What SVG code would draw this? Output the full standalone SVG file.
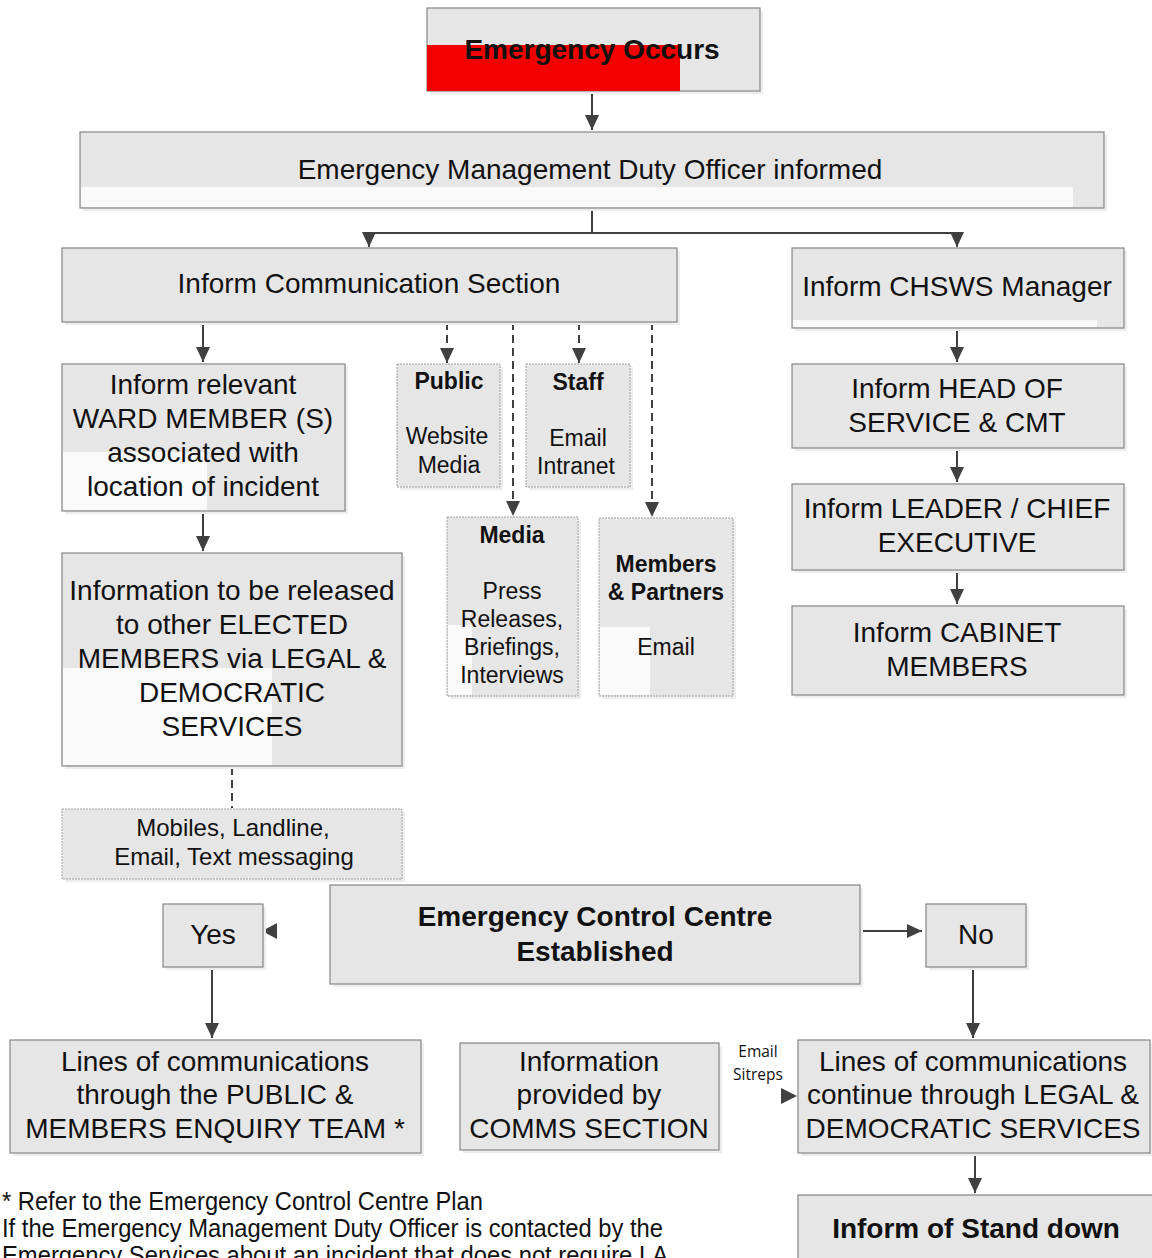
<svg xmlns="http://www.w3.org/2000/svg" width="1152" height="1258" viewBox="0 0 1152 1258">
<defs>
<marker id="ah" markerUnits="userSpaceOnUse" markerWidth="15" markerHeight="14" refX="15" refY="7" orient="auto">
<path d="M0,0 L15,7 L0,14 z" fill="#404040"/>
</marker>
<style>
text{font-family:"Liberation Sans",Arial,sans-serif;fill:#111;text-anchor:middle}
.t28{font-size:28px}
.b28{font-size:28px;font-weight:bold}
.t22{font-size:23px}
.b22{font-size:23px;font-weight:bold}
.t24{font-size:24px}
.box{fill:#e6e6e6;stroke:#858585;stroke-width:1.2}
.dbox{fill:#e6e6e6;stroke:#a0a0a0;stroke-width:1;stroke-dasharray:2 1}
.sh{fill:#ededed}
.wh{fill:#fafafa}
.ln{fill:none;stroke:#404040;stroke-width:2}
.dl{fill:none;stroke:#404040;stroke-width:2;stroke-dasharray:8 5}
.tip{fill:#404040}
.foot{font-size:25px;text-anchor:start}
.sm{font-family:"Open Sans","Liberation Sans",sans-serif;font-size:15.5px}
</style>
</defs>
<rect width="1152" height="1258" fill="#fff"/>

<g id="connectors">
<path class="ln" d="M592,91 V130" marker-end="url(#ah)"/>
<path class="ln" d="M592,208 V233"/>
<path class="ln" d="M592,233 H369 V247" marker-end="url(#ah)"/>
<path class="ln" d="M592,233 H957 V247" marker-end="url(#ah)"/>
<path class="ln" d="M203,322 V362" marker-end="url(#ah)"/>
<path class="dl" d="M447,322 V363" marker-end="url(#ah)"/>
<path class="dl" d="M579,322 V363" marker-end="url(#ah)"/>
<path class="dl" d="M513,322 V516" marker-end="url(#ah)"/>
<path class="dl" d="M652,322 V517" marker-end="url(#ah)"/>
<path class="ln" d="M203,511 V551" marker-end="url(#ah)"/>
<path class="dl" d="M232,767 V808"/>
<path class="ln" d="M957,328 V362" marker-end="url(#ah)"/>
<path class="ln" d="M957,448 V482" marker-end="url(#ah)"/>
<path class="ln" d="M957,570 V604" marker-end="url(#ah)"/>
<polygon class="tip" points="262,931 277,923 277,939"/>
<path class="ln" d="M858,931 H922" marker-end="url(#ah)"/>
<path class="ln" d="M212,963 V1038" marker-end="url(#ah)"/>
<path class="ln" d="M973,963 V1038" marker-end="url(#ah)"/>
<polygon class="tip" points="781,1088 797,1096 781,1104"/>
<path class="ln" d="M975,1153 V1193" marker-end="url(#ah)"/>
</g>

<g id="emergency-occurs">
<rect class="sh" x="430" y="11" width="333" height="83"/>
<rect class="box" x="427" y="8" width="333" height="83"/>
<rect x="427" y="45" width="253" height="46" fill="#f40000"/>
<text class="b28" x="592" y="59">Emergency Occurs</text>
</g>

<g id="duty-officer">
<rect class="sh" x="83" y="135" width="1024" height="76"/>
<rect class="box" x="80" y="132" width="1024" height="76"/>
<rect class="wh" x="81" y="187" width="992" height="20"/>
<text class="t28" x="590" y="179">Emergency Management Duty Officer informed</text>
</g>

<g id="comm-section">
<rect class="sh" x="65" y="251" width="615" height="74"/>
<rect class="box" x="62" y="248" width="615" height="74"/>
<text class="t28" x="369" y="293">Inform Communication Section</text>
</g>

<g id="chsws">
<rect class="sh" x="795" y="251" width="332" height="80"/>
<rect class="box" x="792" y="248" width="332" height="80"/>
<rect class="wh" x="793" y="320" width="304" height="7"/>
<text class="t28" x="957" y="296">Inform CHSWS Manager</text>
</g>

<g id="ward-member">
<rect class="sh" x="65" y="367" width="283" height="147"/>
<rect class="box" x="62" y="364" width="283" height="147"/>
<rect class="wh" x="63" y="452" width="144" height="58"/>
<text class="t28" x="203" y="394">Inform relevant</text>
<text class="t28" x="203" y="428">WARD MEMBER (S)</text>
<text class="t28" x="203" y="462">associated with</text>
<text class="t28" x="203" y="496">location of incident</text>
</g>

<g id="public">
<rect class="sh" x="400" y="367" width="103" height="123"/>
<rect class="dbox" x="397" y="364" width="103" height="123"/>
<text class="b22" x="449" y="389">Public</text>
<text class="t22" x="447" y="444">Website</text>
<text class="t22" x="449" y="473">Media</text>
</g>

<g id="staff">
<rect class="sh" x="529" y="367" width="104" height="123"/>
<rect class="dbox" x="526" y="364" width="104" height="123"/>
<text class="b22" x="578" y="390">Staff</text>
<text class="t22" x="578" y="446">Email</text>
<text class="t22" x="576" y="474">Intranet</text>
</g>

<g id="media">
<rect class="sh" x="450" y="520" width="131" height="179"/>
<rect class="dbox" x="447" y="517" width="131" height="179"/>
<rect class="wh" x="448" y="625" width="24" height="70"/>
<text class="b22" x="512" y="543">Media</text>
<text class="t22" x="512" y="599">Press</text>
<text class="t22" x="512" y="627">Releases,</text>
<text class="t22" x="512" y="655">Briefings,</text>
<text class="t22" x="512" y="683">Interviews</text>
</g>

<g id="members-partners">
<rect class="sh" x="602" y="521" width="134" height="178"/>
<rect class="dbox" x="599" y="518" width="134" height="178"/>
<rect class="wh" x="600" y="627" width="50" height="68"/>
<text class="b22" x="666" y="572">Members</text>
<text class="b22" x="666" y="600">&amp; Partners</text>
<text class="t22" x="666" y="655">Email</text>
</g>

<g id="head-of-service">
<rect class="sh" x="795" y="367" width="332" height="84"/>
<rect class="box" x="792" y="364" width="332" height="84"/>
<text class="t28" x="957" y="398">Inform HEAD OF</text>
<text class="t28" x="957" y="432">SERVICE &amp; CMT</text>
</g>

<g id="leader">
<rect class="sh" x="795" y="487" width="332" height="86"/>
<rect class="box" x="792" y="484" width="332" height="86"/>
<text class="t28" x="957" y="518">Inform LEADER / CHIEF</text>
<text class="t28" x="957" y="552">EXECUTIVE</text>
</g>

<g id="cabinet">
<rect class="sh" x="795" y="609" width="332" height="89"/>
<rect class="box" x="792" y="606" width="332" height="89"/>
<text class="t28" x="957" y="642">Inform CABINET</text>
<text class="t28" x="957" y="676">MEMBERS</text>
</g>

<g id="info-released">
<rect class="sh" x="65" y="556" width="340" height="213"/>
<rect class="box" x="62" y="553" width="340" height="213"/>
<rect class="wh" x="63" y="668" width="209" height="97"/>
<text class="t28" x="232" y="600">Information to be released</text>
<text class="t28" x="232" y="634">to other ELECTED</text>
<text class="t28" x="232" y="668">MEMBERS via LEGAL &amp;</text>
<text class="t28" x="232" y="702">DEMOCRATIC</text>
<text class="t28" x="232" y="736">SERVICES</text>
</g>

<g id="mobiles">
<rect class="sh" x="65" y="812" width="340" height="70"/>
<rect class="dbox" x="62" y="809" width="340" height="70"/>
<text class="t24" x="233" y="836">Mobiles, Landline,</text>
<text class="t24" x="234" y="865">Email, Text messaging</text>
</g>

<g id="ecc">
<rect class="sh" x="333" y="888" width="530" height="99"/>
<rect class="box" x="330" y="885" width="530" height="99"/>
<text class="b28" x="595" y="926">Emergency Control Centre</text>
<text class="b28" x="595" y="961">Established</text>
</g>

<g id="yes">
<rect class="sh" x="166" y="907" width="100" height="63"/>
<rect class="box" x="163" y="904" width="100" height="63"/>
<text class="t28" x="213" y="944">Yes</text>
</g>

<g id="no">
<rect class="sh" x="929" y="907" width="100" height="63"/>
<rect class="box" x="926" y="904" width="100" height="63"/>
<text class="t28" x="976" y="944">No</text>
</g>

<g id="lines-public">
<rect class="sh" x="13" y="1043" width="411" height="113"/>
<rect class="box" x="10" y="1040" width="411" height="113"/>
<text class="t28" x="215" y="1071">Lines of communications</text>
<text class="t28" x="215" y="1104">through the PUBLIC &amp;</text>
<text class="t28" x="215" y="1138">MEMBERS ENQUIRY TEAM *</text>
</g>

<g id="info-comms">
<rect class="sh" x="463" y="1046" width="259" height="107"/>
<rect class="box" x="460" y="1043" width="259" height="107"/>
<text class="t28" x="589" y="1071">Information</text>
<text class="t28" x="589" y="1104">provided by</text>
<text class="t28" x="589" y="1138">COMMS SECTION</text>
</g>

<g id="email-sitreps">
<text class="sm" x="758" y="1057">Email</text>
<text class="sm" x="758" y="1080">Sitreps</text>
</g>

<g id="lines-legal">
<rect class="sh" x="801" y="1043" width="352" height="113"/>
<rect class="box" x="798" y="1040" width="352" height="113"/>
<text class="t28" x="973" y="1071">Lines of communications</text>
<text class="t28" x="973" y="1104">continue through LEGAL &amp;</text>
<text class="t28" x="973" y="1138">DEMOCRATIC SERVICES</text>
</g>

<g id="stand-down">
<rect class="box" x="798" y="1195" width="360" height="80"/>
<text class="b28" x="976" y="1238">Inform of Stand down</text>
</g>

<g id="footnote">
<text class="foot" x="2" y="1210" textLength="481" lengthAdjust="spacingAndGlyphs">* Refer to the Emergency Control Centre Plan</text>
<text class="foot" x="2" y="1237" textLength="661" lengthAdjust="spacingAndGlyphs">If the Emergency Management Duty Officer is contacted by the</text>
<text class="foot" x="2" y="1264" textLength="666" lengthAdjust="spacingAndGlyphs">Emergency Services about an incident that does not require LA</text>
</g>
</svg>
